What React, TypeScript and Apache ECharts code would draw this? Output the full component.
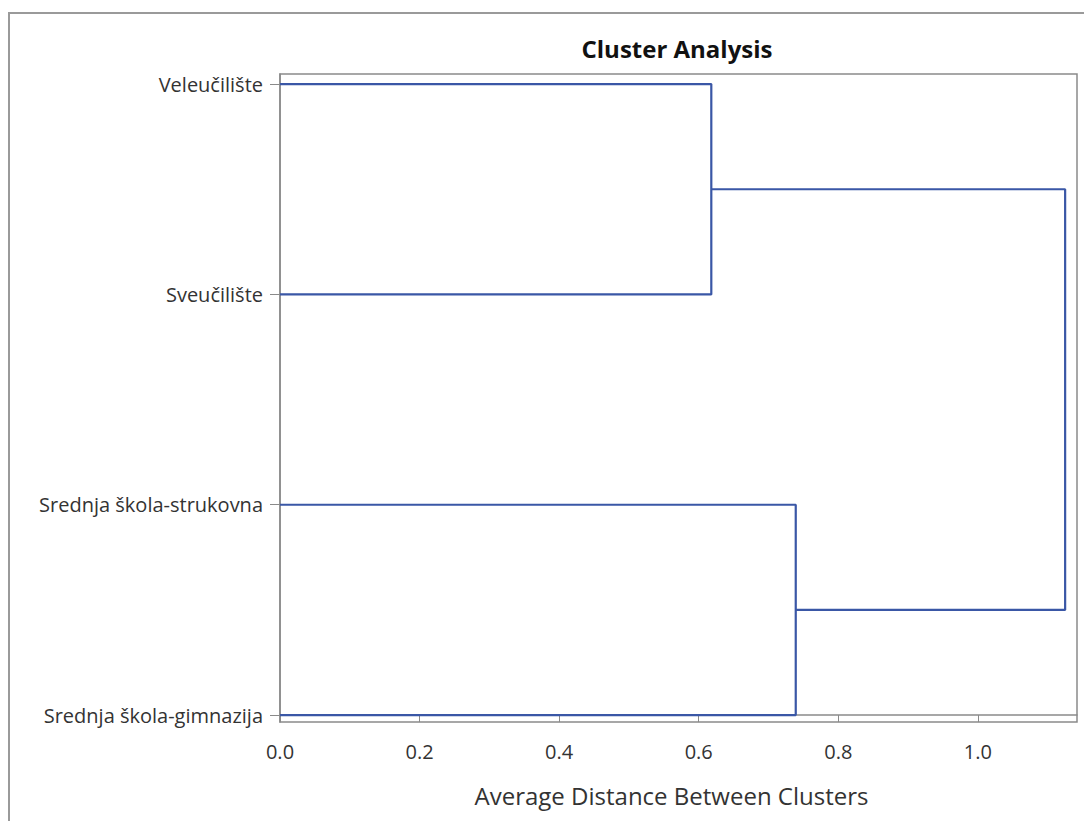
import React, { useEffect, useRef } from "react";
import * as echarts from "echarts";

const leaves = ["Srednja škola-gimnazija", "Srednja škola-strukovna", "Sveučilište", "Veleučilište"];
// merges: [left child, right child, height]; children index leaves (0..3) or earlier merges (4..)
const mergeLeft = [3, 1, 4];
const mergeRight = [2, 0, 5];
const mergeHeights = [0.618, 0.739, 1.125];
const xTicks = [0, 0.2, 0.4, 0.6, 0.8, 1.0];

const FONT = "'Open Sans', 'DejaVu Sans', sans-serif";
const LINE = "#3A57A6";

export default function App() {
  const ref = useRef<HTMLDivElement>(null);
  useEffect(() => {
    const chart = echarts.init(ref.current!, undefined, { renderer: "svg" });
    const nodeX: number[] = leaves.map(() => 0);
    const nodeY: number[] = leaves.map((_, i) => i);
    const series: any[] = [];
    mergeHeights.forEach((h, i) => {
      const l = mergeLeft[i];
      const r = mergeRight[i];
      series.push({
        type: "line",
        data: [
          [nodeX[l], nodeY[l]],
          [h, nodeY[l]],
          [h, nodeY[r]],
          [nodeX[r], nodeY[r]],
        ],
        symbol: "none",
        lineStyle: { color: LINE, width: 2.2 },
        silent: true,
      });
      nodeX.push(h);
      nodeY.push((nodeY[l] + nodeY[r]) / 2);
    });
    chart.setOption({
      animation: false,
      title: {
        text: "Cluster Analysis",
        left: 672,
        top: 31,
        textAlign: "center",
        textStyle: { fontFamily: FONT, fontSize: 24, fontWeight: "bold", color: "#111" },
      },
      graphic: [
        {
          type: "rect",
          shape: { x: 9, y: 13, width: 1090, height: 830 },
          style: { fill: "none", stroke: "#9a9a9a", lineWidth: 2 },
          silent: true,
        },
      ],
      grid: { left: 280, top: 74, right: 7, bottom: 99, show: true, borderColor: "#8a8a8a", borderWidth: 1.5, backgroundColor: "transparent" },
      xAxis: {
        type: "value",
        min: 0,
        max: 1.142,
        interval: 0.2,
        name: "Average Distance Between Clusters",
        nameLocation: "middle",
        nameGap: 61,
        nameTextStyle: { fontFamily: FONT, fontSize: 24, color: "#333", padding: [0, 14, 0, 0] },
        axisLine: { show: true, lineStyle: { color: "#8a8a8a", width: 1.5 } },
        axisTick: { show: true, length: 7, lineStyle: { color: "#8a8a8a" }, customValues: xTicks },
        axisLabel: {
          customValues: xTicks,
          formatter: (v: number) => v.toFixed(1),
          fontFamily: FONT,
          fontSize: 20,
          color: "#333",
          margin: 19,
        },
        splitLine: { show: false },
      },
      yAxis: {
        type: "value",
        min: -0.033,
        max: 3.048,
        axisLine: { show: true, lineStyle: { color: "#8a8a8a", width: 1.5 } },
        axisTick: { show: true, length: 10, lineStyle: { color: "#8a8a8a" }, customValues: [0, 1, 2, 3] },
        axisLabel: {
          customValues: [0, 1, 2, 3],
          formatter: (v: number) => leaves[Math.round(v)] ?? "",
          fontFamily: FONT,
          fontSize: 20,
          color: "#333",
          margin: 17,
        },
        splitLine: { show: false },
      },
      series,
    });
    return () => chart.dispose();
  }, []);
  return <div ref={ref} style={{ position: "fixed", left: 0, top: 0, width: 1084, height: 821, background: "#fff" }} />;
}
